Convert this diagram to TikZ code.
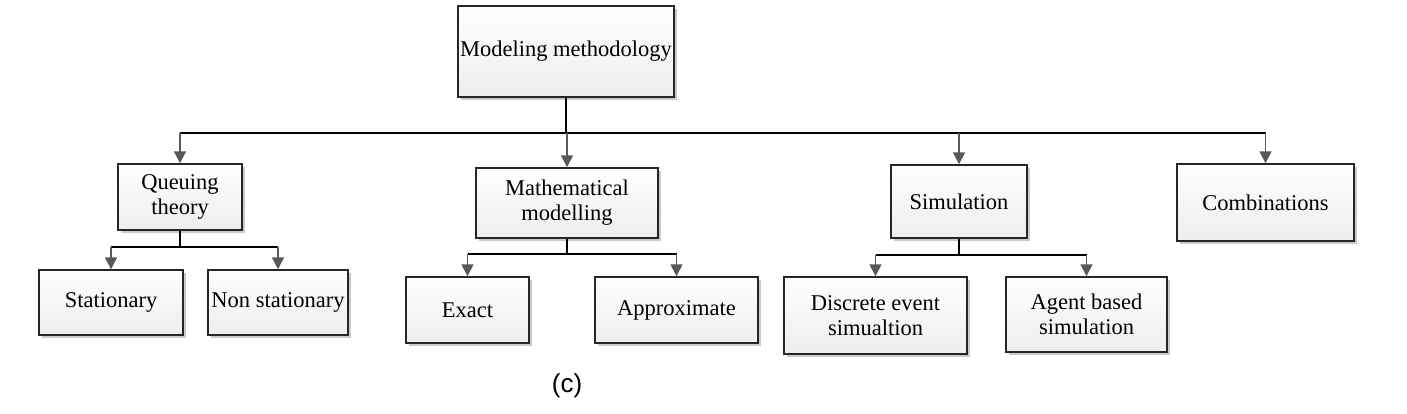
\documentclass[tikz,border=0pt]{standalone}
\usepackage{fontspec}
\setmainfont{Liberation Serif}
\newfontfamily\capfont{Liberation Sans}
\usetikzlibrary{arrows.meta,shadows}
\tikzset{
  box/.style={draw=black!85, line width=1.5pt, top color=white, bottom color=black!7,
    rectangle, inner sep=0pt, align=center,
    font=\fontsize{22.5}{25}\selectfont,
    drop shadow={shadow xshift=2.5pt, shadow yshift=-2.5pt, fill=black!35, opacity=0.6}},
  link/.style={draw=black, line width=1.7pt},
  arr/.style={draw=black!65, line width=1.7pt, -{Triangle[length=12pt,width=12pt]}}
}
\begin{document}
\begin{tikzpicture}[x=1pt,y=-1pt]
\useasboundingbox (0,0) rectangle (1407,413);
\node[box, minimum width=216pt, minimum height=91pt] (top) at (566,51.5) {Modeling methodology};
\node[box, minimum width=124pt, minimum height=66pt] (q) at (180,197) {Queuing\\theory};
\node[box, minimum width=144pt, minimum height=65pt] (st) at (111,302.5) {Stationary};
\node[box, minimum width=140pt, minimum height=65pt] (ns) at (278,302.5) {Non stationary};
\node[box, minimum width=182pt, minimum height=70pt] (m) at (567,203) {Mathematical\\modelling};
\node[box, minimum width=123pt, minimum height=66pt] (ex) at (467.5,310) {Exact};
\node[box, minimum width=163pt, minimum height=66pt] (ap) at (676.5,310) {Approximate};
\node[box, minimum width=136pt, minimum height=73pt] (s) at (959,201.5) {Simulation};
\node[box, minimum width=177pt, minimum height=77pt] (c) at (1265.5,202.5) {Combinations};
\node[box, minimum width=183pt, minimum height=77pt] (de) at (875.5,315.5) {Discrete event\\simualtion};
\node[box, minimum width=161pt, minimum height=75pt] (ab) at (1086.5,314.5) {Agent based\\simulation};
\node[font=\capfont\fontsize{26}{30}\selectfont] (lab) at (567,386) {(c)};
% main bus
\coordinate (bus) at (566,133);
\draw[link] (top.south) -- (bus);
\draw[link] (q.north |- bus) -- (c.north |- bus);
\draw[arr] (q.north |- bus) -- (q.north);
\draw[arr] (m.north |- bus) -- (m.north);
\draw[arr] (s.north |- bus) -- (s.north);
\draw[arr] (c.north |- bus) -- (c.north);
% queuing subtree
\coordinate (qb) at (180,247);
\draw[link] (q.south) -- (qb);
\draw[link] (st.north |- qb) -- (ns.north |- qb);
\draw[arr] (st.north |- qb) -- (st.north);
\draw[arr] (ns.north |- qb) -- (ns.north);
% math subtree
\coordinate (mb) at (567,254);
\draw[link] (m.south) -- (mb);
\draw[link] (ex.north |- mb) -- (ap.north |- mb);
\draw[arr] (ex.north |- mb) -- (ex.north);
\draw[arr] (ap.north |- mb) -- (ap.north);
% simulation subtree
\coordinate (sb) at (959,255);
\draw[link] (s.south) -- (sb);
\draw[link] (de.north |- sb) -- (ab.north |- sb);
\draw[arr] (de.north |- sb) -- (de.north);
\draw[arr] (ab.north |- sb) -- (ab.north);
\end{tikzpicture}
\end{document}
